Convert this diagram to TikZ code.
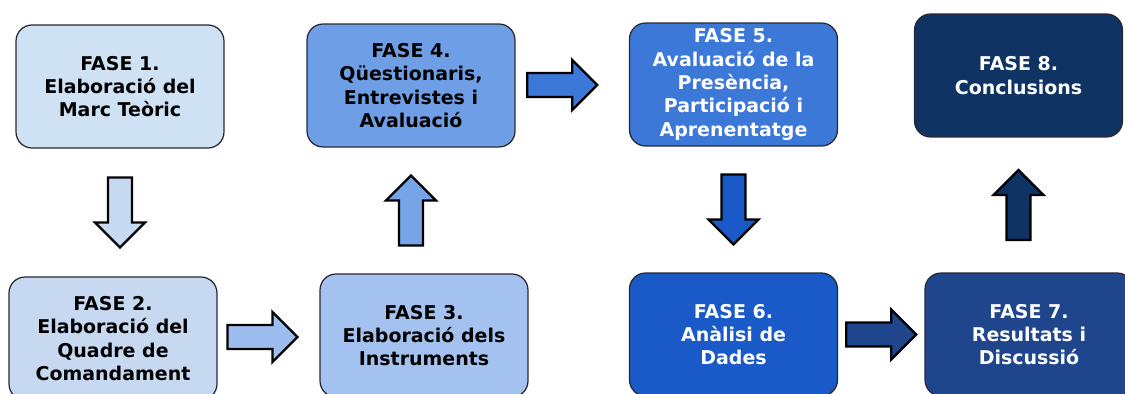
\documentclass[tikz,border=0pt]{standalone}
\usepackage{fontspec}
\setmainfont{DejaVu Sans}
\usepackage{tikz}
\usetikzlibrary{calc, positioning}
\definecolor{faseA}{RGB}{207, 226, 243}
\definecolor{faseB}{RGB}{198, 217, 241}
\definecolor{faseC}{RGB}{164, 194, 240}
\definecolor{faseD}{RGB}{110, 159, 230}
\definecolor{faseE}{RGB}{60, 120, 215}
\definecolor{faseF}{RGB}{25, 90, 200}
\definecolor{faseG}{RGB}{31, 70, 140}
\definecolor{faseH}{RGB}{15, 52, 100}
\definecolor{edgeDark}{RGB}{40, 40, 50}

\begin{document}
\begin{tikzpicture}[x=0.02cm, y=0.02cm,
  font=\fontsize{10.8}{13.3}\selectfont\bfseries,
  fasebox/.style={draw=edgeDark, line width=0.7pt, rounded corners=0.32cm,
    minimum width=4.16cm, minimum height=2.46cm, align=center, inner sep=2pt},
  barrow/.pic={
    \draw[pic actions, line width=1.3pt, line join=miter]
      (-35,-12) -- (10,-12) -- (10,-25) -- (35,0) -- (10,25) -- (10,12)
      -- (-35,12) -- cycle;
  }]
  \useasboundingbox (0,0) rectangle (1125,393);
  \clip (0,0) rectangle (1125,393);

  % phases
  \node[fasebox, fill=faseA] (f1) at (120,306.5) {FASE 1.\\Elaboració del\\Marc Teòric};
  \node[fasebox, fill=faseB] (f2) at (113,54.5) {FASE 2.\\Elaboració del\\Quadre de\\Comandament};
  \node[fasebox, fill=faseC] (f3) at (424,57.5) {FASE 3.\\Elaboració dels\\Instruments};
  \node[fasebox, fill=faseD] (f4) at (411,307.5) {FASE 4.\\Qüestionaris,\\Entrevistes i\\Avaluació};
  \node[fasebox, fill=faseE, text=white] (f5) at (733.5,308.5) {FASE 5.\\Avaluació de la\\Presència,\\Participació i\\Aprenentatge};
  \node[fasebox, fill=faseF, text=white] (f6) at (733.5,58.5) {FASE 6.\\Anàlisi de\\Dades};
  \node[fasebox, fill=faseG, text=white] (f7) at (1029,58.5) {FASE 7.\\Resultats i\\Discussió};
  \node[fasebox, fill=faseH, text=white] (f8) at (1018.5,317.5) {FASE 8.\\Conclusions};

  % block arrows
  \pic[fill=faseB, rotate=-90] at ($(f1.south)!0.5!(f1.south|-f2.north)$) {barrow};
  \pic[fill=faseC!85!faseD] at ($(f2.east)!0.5!(f3.west)+(-6,0)$) {barrow};
  \pic[fill=faseD!85!faseC, rotate=90] at ($(f4.south)!0.5!(f4.south|-f3.north)$) {barrow};
  \pic[fill=faseE] at ($(f4.east)!0.5!(f5.west)+(-10,0)$) {barrow};
  \pic[fill=faseF, rotate=-90] at ($(f5.south)!0.5!(f5.south|-f6.north)$) {barrow};
  \pic[fill=faseG] at ($(f6.east)!0.5!(f7.west)$) {barrow};
  \pic[fill=faseH, rotate=90] at ($(f8.south)!0.5!(f8.south|-f7.north)$) {barrow};
\end{tikzpicture}
\end{document}
